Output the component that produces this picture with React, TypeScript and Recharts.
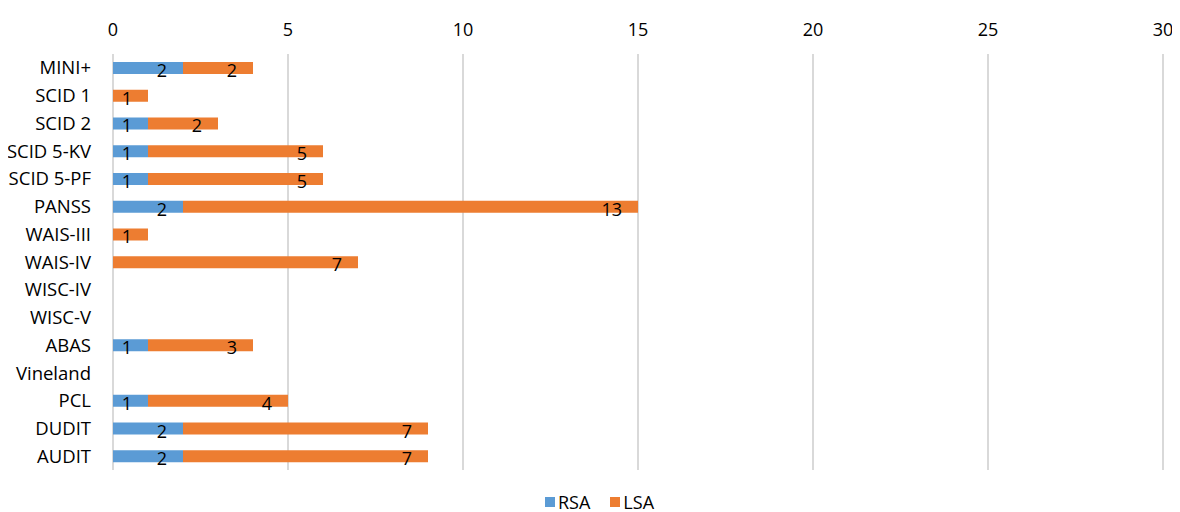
import React from 'react'
import {
  BarChart,
  Bar,
  XAxis,
  YAxis,
  CartesianGrid,
  Legend,
  LabelList,
} from 'recharts'

const categories = [
  'MINI+',
  'SCID 1',
  'SCID 2',
  'SCID 5-KV',
  'SCID 5-PF',
  'PANSS',
  'WAIS-III',
  'WAIS-IV',
  'WISC-IV',
  'WISC-V',
  'ABAS',
  'Vineland',
  'PCL',
  'DUDIT',
  'AUDIT',
]
const rsaValues = [2, 0, 1, 1, 1, 2, 0, 0, 0, 0, 1, 0, 1, 2, 2]
const lsaValues = [2, 1, 2, 5, 5, 13, 1, 7, 0, 0, 3, 0, 4, 7, 7]
const xTicks = [0, 5, 10, 15, 20, 25, 30]
const seriesNames = ['RSA', 'LSA']
const seriesColors = ['#5b9bd5', '#ed7d31']

const FONT = '"Open Sans", "Noto Sans", sans-serif'

const chartData = categories.map((name, i) => ({
  name,
  RSA: rsaValues[i],
  LSA: lsaValues[i],
}))

// label sits just inside the end of each segment, like Excel's "inside end"
const EndLabel = (props: any) => {
  const { x, y, width, height, value } = props
  if (!value) return null
  return (
    <text
      x={x + width - 16}
      y={y + height / 2 + 9}
      textAnchor="end"
      fill="#000"
      fontSize={18}
      fontFamily={FONT}
    >
      {value}
    </text>
  )
}

// keep series order RSA, LSA in the legend
const LegendContent = () => (
  <div
    style={{
      height: 42,
      boxSizing: 'border-box',
      paddingTop: 20,
      paddingLeft: 36,
      display: 'flex',
      justifyContent: 'center',
      alignItems: 'flex-start',
      gap: 20,
      fontFamily: FONT,
      fontSize: 18,
      lineHeight: '24px',
      color: '#000',
    }}
  >
    {seriesNames.map((n, i) => (
      <span key={n} style={{ display: 'inline-flex', alignItems: 'center', gap: 3 }}>
        <span style={{ display: 'inline-block', width: 10, height: 10, background: seriesColors[i] }} />
        {n}
      </span>
    ))}
  </div>
)

export default function App() {
  return (
    <div style={{ margin: '-8px 0 0 -8px', width: 1180, height: 512, background: '#fff' }}>
      <BarChart
        width={1180}
        height={512}
        data={chartData}
        layout="vertical"
        barSize={12}
        margin={{ top: 10, right: 17, left: 0, bottom: 0 }}
      >
        <CartesianGrid horizontal={false} stroke="#d9d9d9" strokeWidth={2} />
        <XAxis
          type="number"
          orientation="top"
          domain={[0, 30]}
          ticks={xTicks}
          axisLine={false}
          tickLine={false}
          tickSize={0}
          tickMargin={18}
          height={44}
          tick={{ fill: '#000', fontSize: 18, fontFamily: FONT }}
        />
        <YAxis
          type="category"
          dataKey="name"
          width={113}
          axisLine={false}
          tickLine={false}
          tickSize={0}
          tickMargin={22}
          interval={0}
          tick={{ fill: '#000', fontSize: 18.5, fontFamily: FONT }}
        />
        <Legend verticalAlign="bottom" height={42} content={<LegendContent />} />
        <Bar dataKey="RSA" stackId="a" fill={seriesColors[0]} isAnimationActive={false}>
          <LabelList dataKey="RSA" content={<EndLabel />} />
        </Bar>
        <Bar dataKey="LSA" stackId="a" fill={seriesColors[1]} isAnimationActive={false}>
          <LabelList dataKey="LSA" content={<EndLabel />} />
        </Bar>
      </BarChart>
    </div>
  )
}
